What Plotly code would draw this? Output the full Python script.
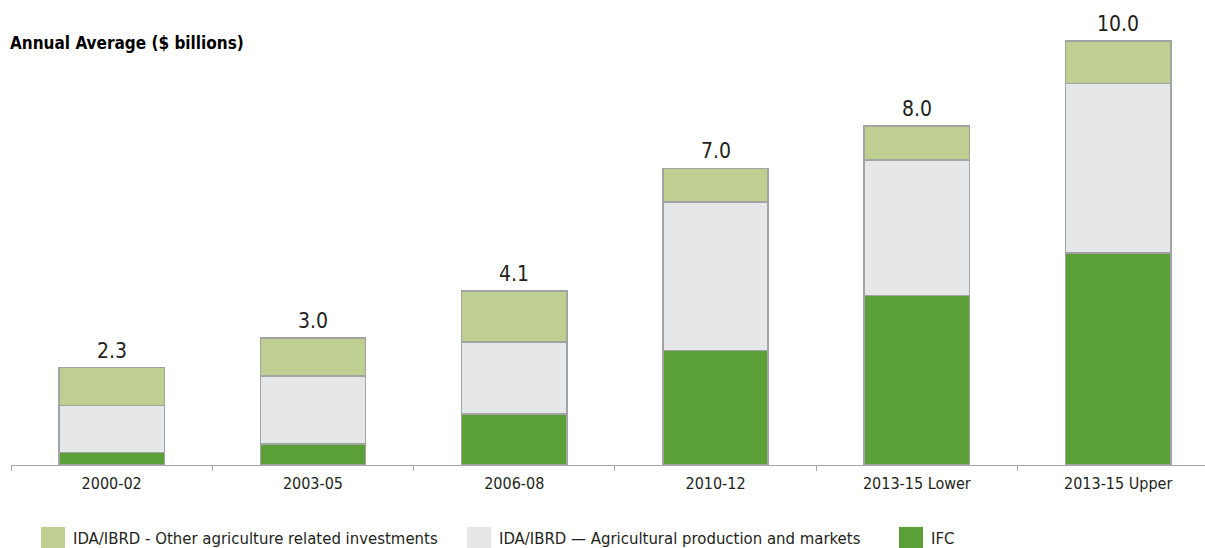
import plotly.graph_objects as go

categories = ["2000-02", "2003-05", "2006-08", "2010-12", "2013-15 Lower", "2013-15 Upper"]
ifc = [0.3, 0.5, 1.2, 2.7, 4.0, 5.0]
ag_production = [1.1, 1.6, 1.7, 3.5, 3.2, 4.0]
other_ag = [0.9, 0.9, 1.2, 0.8, 0.8, 1.0]
totals = [2.3, 3.0, 4.1, 7.0, 8.0, 10.0]
total_labels = ["2.3", "3.0", "4.1", "7.0", "8.0", "10.0"]

series_names = [
    "IDA/IBRD - Other agriculture related investments",
    "IDA/IBRD \u2014 Agricultural production and markets",
    "IFC",
]
colors = {"other": "#bfce91", "prod": "#e6e7e9", "ifc": "#5b9f37"}
FONT = "DejaVu Sans Condensed, Liberation Sans Narrow, Arial Narrow, sans-serif"
TXT = "#231f20"

W, H = 1205, 548
ML, MR, MT, MB = 11, 0, 19.5, 83

fig = go.Figure()
line = dict(color="#a3a3a3", width=1.5)
fig.add_trace(go.Bar(x=categories, y=ifc, name=series_names[2],
                     marker=dict(color=colors["ifc"], line=line), width=0.523))
fig.add_trace(go.Bar(x=categories, y=ag_production, name=series_names[1],
                     marker=dict(color=colors["prod"], line=line), width=0.523))
fig.add_trace(go.Bar(x=categories, y=other_ag, name=series_names[0],
                     marker=dict(color=colors["other"], line=line), width=0.523))

for c, t, lab in zip(categories, totals, total_labels):
    fig.add_annotation(x=c, y=t, text=lab, showarrow=False, yanchor="bottom",
                       yshift=3, font=dict(family=FONT, size=21, color=TXT))

pw = W - ML - MR
ph = H - MB - MT
def px_x(v):
    return (v - ML) / pw
def px_y(v):
    return (H - MB - v) / ph

# y-axis title
fig.add_annotation(xref="paper", yref="paper", x=px_x(8), y=px_y(43),
                   xanchor="left", yanchor="middle",
                   text="<b>Annual Average ($ billions)</b>", showarrow=False,
                   font=dict(family=FONT, size=17, color="#000000"))

legend_items = [
    (41, colors["other"], series_names[0]),
    (467, colors["prod"], series_names[1]),
    (899, colors["ifc"], series_names[2]),
]
for x0, col, name in legend_items:
    fig.add_shape(type="rect", xref="paper", yref="paper",
                  x0=px_x(x0), x1=px_x(x0 + 24), y0=px_y(527), y1=px_y(555),
                  fillcolor=col, line=dict(width=0))
    fig.add_annotation(xref="paper", yref="paper", x=px_x(x0 + 30), y=px_y(538.5),
                       xanchor="left", yanchor="middle", text=name, showarrow=False,
                       font=dict(family=FONT, size=16.6, color=TXT))

fig.update_layout(
    width=W, height=H,
    margin=dict(l=ML, r=MR, t=MT, b=MB),
    barmode="stack",
    showlegend=False,
    plot_bgcolor="white", paper_bgcolor="white",
    font=dict(family=FONT, color=TXT),
    xaxis=dict(type="category", range=[-0.5, -0.5 + pw / 201.3], showline=True,
               linecolor="#a6a6a6", linewidth=1, ticks="outside", tickson="boundaries",
               ticklen=5, tickcolor="#a6a6a6", ticklabelstandoff=4,
               tickfont=dict(family=FONT, size=16, color=TXT),
               showgrid=False, fixedrange=True),
    yaxis=dict(range=[0, 10.5], visible=False, showgrid=False, fixedrange=True),
)

fig.write_html("out.html", config={"displayModeBar": False},
               post_script="document.body.style.margin='0';")
